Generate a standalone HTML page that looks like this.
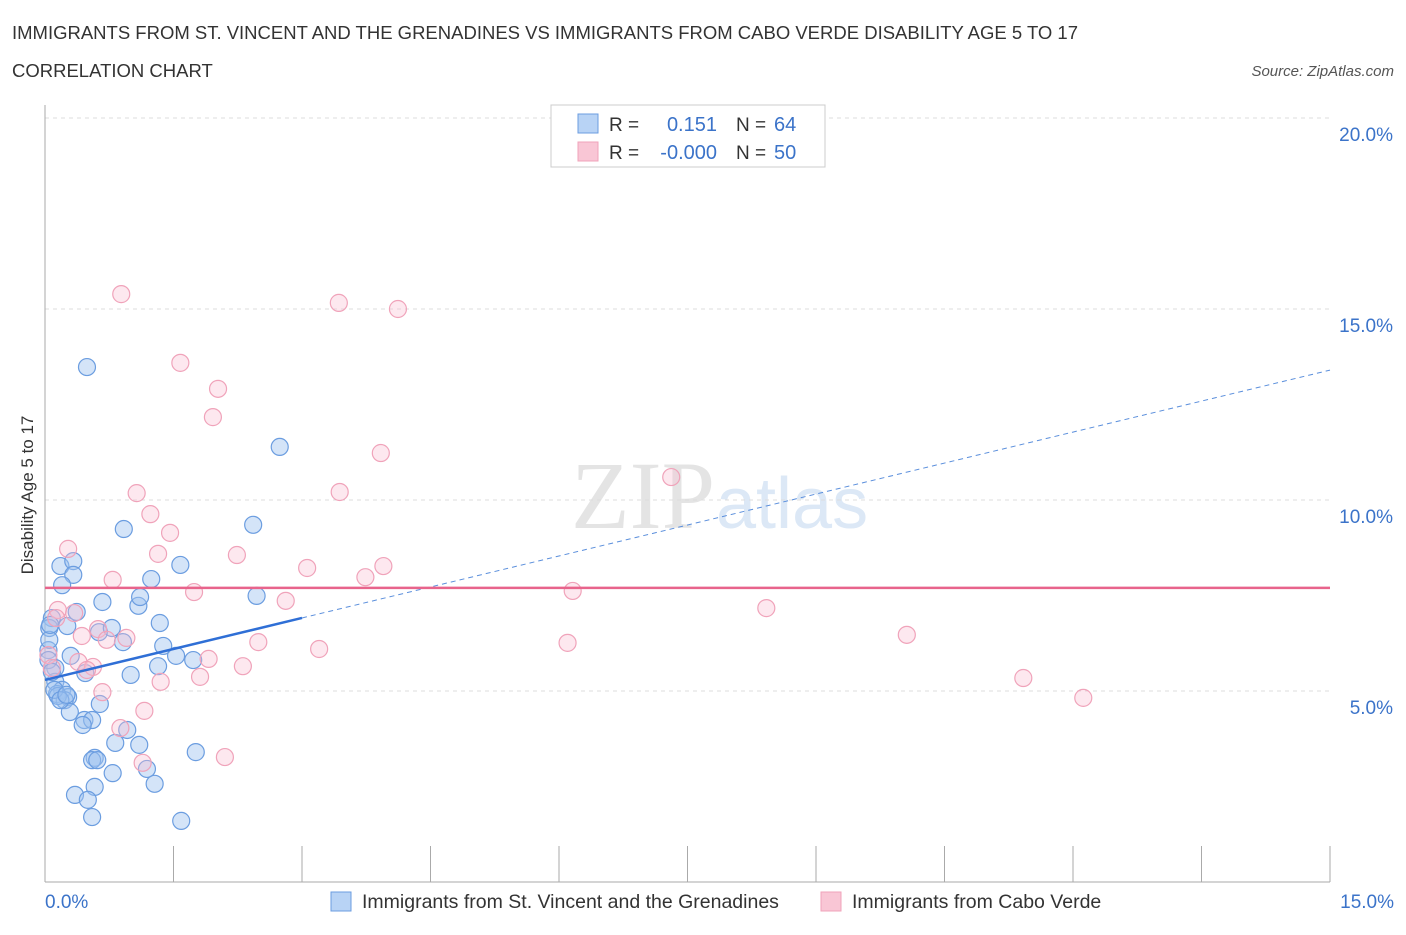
<!DOCTYPE html>
<html><head><meta charset="utf-8"><style>
body{margin:0;background:#fff;font-family:"Liberation Sans",sans-serif;}
</style></head><body>
<svg id="c" width="1406" height="930" xmlns="http://www.w3.org/2000/svg">
<text x="12" y="39" font-size="18.5" fill="#333" textLength="1066">IMMIGRANTS FROM ST. VINCENT AND THE GRENADINES VS IMMIGRANTS FROM CABO VERDE DISABILITY AGE 5 TO 17</text>
<text x="12" y="77" font-size="18.5" fill="#333">CORRELATION CHART</text>
<text x="1394" y="76" font-size="15" fill="#555" font-style="italic" text-anchor="end">Source: ZipAtlas.com</text>
<text x="715" y="528" font-size="96" fill="#e4e4e4" font-family="Liberation Serif" text-anchor="end">ZIP</text>
<text x="716" y="528" font-size="72" fill="#dce8f6">atlas</text>
<g id="grid"></g><g id="pts"></g><g id="lines"></g>
<text x="33" y="495" font-size="17" fill="#333" transform="rotate(-90 33 495)" text-anchor="middle">Disability Age 5 to 17</text>
<text x="45" y="908" font-size="19" fill="#3b73c9">0.0%</text>
<text x="1394" y="908" font-size="19" fill="#3b73c9" text-anchor="end">15.0%</text>
<g>
<rect x="551" y="105" width="274" height="62" fill="#fff" stroke="#ccc"/>
<rect x="578" y="114" width="20" height="19" fill="#b8d3f5" stroke="#6b9de0"/>
<rect x="578" y="142" width="20" height="19" fill="#f9c6d5" stroke="#f0a3ba"/>
<text x="609" y="131" font-size="19" fill="#333">R =</text><text x="717" y="131" font-size="20" fill="#3b73c9" text-anchor="end">0.151</text>
<text x="736" y="131" font-size="19" fill="#333">N =</text><text x="774" y="131" font-size="20" fill="#3b73c9">64</text>
<text x="609" y="159" font-size="19" fill="#333">R =</text><text x="717" y="159" font-size="20" fill="#3b73c9" text-anchor="end">-0.000</text>
<text x="736" y="159" font-size="19" fill="#333">N =</text><text x="774" y="159" font-size="20" fill="#3b73c9">50</text>
</g>
<g>
<rect x="331" y="892" width="20" height="19" fill="#b8d3f5" stroke="#6b9de0"/>
<text x="362" y="908" font-size="19.5" fill="#333">Immigrants from St. Vincent and the Grenadines</text>
<rect x="821" y="892" width="20" height="19" fill="#f9c6d5" stroke="#f0a3ba"/>
<text x="852" y="908" font-size="19.5" fill="#333">Immigrants from Cabo Verde</text>
</g>
</svg>
<script>
const yTicks=[5,10,15,20];
const yTickLabels=["5.0%","10.0%","15.0%","20.0%"];
const xTicks=[0,1.5,3,4.5,6,7.5,9,10.5,12,13.5,15];
const blueX=[0.49,2.74,0.92,2.43,0.18,0.33,0.33,1.24,1.58,0.20,2.47,0.67,1.09,0.37,0.08,1.34,0.26,0.05,0.63,0.91,1.38,0.04,0.30,1.53,1.73,1.32,0.12,1.00,0.47,0.12,0.20,0.14,0.27,0.23,0.15,0.64,0.29,0.46,0.55,0.44,0.96,0.82,1.10,0.58,0.55,0.61,1.76,1.19,0.79,1.28,0.58,0.35,0.50,0.55,1.59,0.05,0.06,0.04,0.08,0.11,0.18,0.25,0.78,1.11];
const blueY=[13.48,11.39,9.24,9.35,8.27,8.40,8.04,7.93,8.30,7.77,7.49,7.33,7.23,7.07,6.91,6.78,6.70,6.65,6.54,6.28,6.18,6.07,5.92,5.92,5.81,5.65,5.60,5.42,5.47,5.24,5.03,4.92,4.84,4.76,4.87,4.66,4.45,4.24,4.24,4.11,3.98,3.64,3.59,3.25,3.19,3.19,3.40,2.96,2.85,2.57,2.49,2.28,2.15,1.70,1.60,6.34,6.73,5.81,5.50,5.03,4.76,4.90,6.65,7.46];
const pinkX=[0.89,3.43,4.12,1.58,2.02,1.96,3.92,7.31,1.07,3.44,1.23,1.46,0.27,1.32,2.24,3.95,3.06,0.79,3.74,1.74,6.16,2.81,8.42,0.15,0.34,0.13,0.62,0.95,0.43,0.72,2.49,6.10,10.06,3.20,1.91,0.39,0.56,0.49,2.31,1.81,1.35,11.42,0.67,1.16,12.12,0.88,1.14,2.10,0.04,0.08];
const pinkY=[15.39,15.16,15.00,13.59,12.91,12.17,11.23,10.60,10.18,10.21,9.63,9.14,8.72,8.59,8.56,8.27,8.22,7.91,7.98,7.59,7.62,7.36,7.17,7.12,7.04,6.91,6.62,6.39,6.44,6.34,6.28,6.26,6.47,6.10,5.84,5.76,5.63,5.55,5.65,5.37,5.24,5.34,4.97,4.48,4.82,4.03,3.12,3.27,5.94,5.60];
const blueTrend=[5.29,13.4]; const blueSolidEnd=3.0;
const pinkTrend=7.7;
const X=v=>45+v/15*1285, Y=v=>882-v*38.2;
const NS="http://www.w3.org/2000/svg";
function mk(p,t,a){const e=document.createElementNS(NS,t);for(const k in a)e.setAttribute(k,a[k]);p.appendChild(e);return e;}
const g=document.getElementById('grid');
yTicks.forEach((t,i)=>{
 const l=mk(g,'line',{x1:45,x2:1330,y1:Y(t),y2:Y(t),stroke:'#ddd','stroke-dasharray':'4,4'});
 
 
 const tx=mk(g,'text',{x:1393,y:Y(t)+23,'font-size':19,fill:'#3b73c9','text-anchor':'end'});tx.textContent=yTickLabels[i];
 
 
});
const ax=mk(g,'line',{x1:45,x2:45,y1:105,y2:882,stroke:'#aaa'});


const bx=mk(g,'line',{x1:45,x2:1330,y1:882,y2:882,stroke:'#aaa'});


xTicks.forEach(t=>{const l=mk(g,'line',{x1:X(t),x2:X(t),y1:846,y2:882,stroke:'#aaa'});
 
 });
const p=document.getElementById('pts');
blueX.forEach((v,i)=>{const c=mk(p,'circle',{cx:X(v),cy:Y(blueY[i]),r:8.5,fill:'rgba(160,196,240,0.45)',stroke:'#6b9de0','stroke-width':1.2});
 
 });
pinkX.forEach((v,i)=>{const c=mk(p,'circle',{cx:X(v),cy:Y(pinkY[i]),r:8.5,fill:'rgba(248,190,210,0.35)',stroke:'#f0a3ba','stroke-width':1.2});
 
 });
const L=document.getElementById('lines');
const by=x=>blueTrend[0]+(blueTrend[1]-blueTrend[0])*x/15;
const l1=mk(L,'line',{x1:X(0),y1:Y(by(0)),x2:X(blueSolidEnd),y2:Y(by(blueSolidEnd)),stroke:'#2f6fd6','stroke-width':2.5});


const l2=mk(L,'line',{x1:X(blueSolidEnd),y1:Y(by(blueSolidEnd)),x2:X(15),y2:Y(by(15)),stroke:'#5b8fdc','stroke-width':1,'stroke-dasharray':'5,4'});


const l3=mk(L,'line',{x1:X(0),y1:Y(pinkTrend),x2:X(15),y2:Y(pinkTrend),stroke:'#e8648c','stroke-width':2.5});


</script>
</body></html>
